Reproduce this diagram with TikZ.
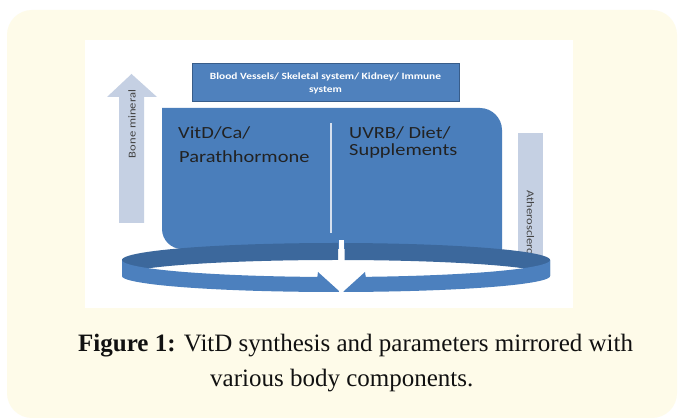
\documentclass[tikz,border=0pt]{standalone}
\usepackage{fontspec}
\setmainfont{Liberation Serif}
\newfontfamily\calib[FakeStretch=1.2]{Carlito}
\definecolor{cardc}{HTML}{FEFBE9}
\definecolor{boxc}{HTML}{4A7EBB}
\definecolor{topc}{HTML}{4F81BD}
\definecolor{topd}{HTML}{385D8A}
\definecolor{arrc}{HTML}{C5D0E3}
\definecolor{backc}{HTML}{3C689C}
\definecolor{frontc}{HTML}{4C80BE}
\definecolor{darktxt}{HTML}{222222}
\definecolor{divc}{HTML}{D6E0EE}
\definecolor{captc}{HTML}{111111}
\tikzset{
  boxtext/.style={font=\calib\fontsize{17}{20}\selectfont, text=darktxt, inner sep=0pt, anchor=base west},
  arrtext/.style={font=\calib\fontsize{10.5}{12}\selectfont, text=darktxt!85, inner sep=0pt},
  topbox/.style={fill=topc, draw=topd, line width=1pt, inner sep=0pt, align=center, text=white,
    font=\calib\bfseries\fontsize{9.5}{13}\selectfont},
  capt/.style={font=\fontsize{25}{30}\selectfont, text=captc, inner sep=0pt, anchor=base west},
}
\begin{document}
\begin{tikzpicture}[x=1pt,y=-1pt]
\useasboundingbox (0,0) rectangle (678,419);
\fill[white] (0,0) rectangle (678,419);
% card and white panel
\fill[cardc, rounded corners=25pt] (7,10) rectangle (677,418);
\fill[white] (85,40) rectangle (573,308);
% left arrow (Bone mineral)
\fill[arrc] (119,223) -- (119,97) -- (107,97) -- (131.5,74) -- (157,97) -- (144,97) -- (144,223) -- cycle;
\node[arrtext, rotate=90] (bone) at (132,124) {Bone mineral};
% right arrow shaft (Atherosclero)
\fill[arrc] (518,133) rectangle (543,268);
\node[arrtext, rotate=-90, anchor=west] (ather) at (530.5,190) {Atherosclero};
% main box
\fill[boxc] (162,108) -- (480,108) .. controls (492,108) and (502,118) .. (502,130)
  -- (502,249) -- (182,249) .. controls (171,249) and (162,240) .. (162,229) -- cycle;
\coordinate (dtop) at (331,123);
\coordinate (dbot) at (331,233);
\draw[divc, line width=1.2pt] (dtop) -- (dbot);
\node[boxtext] (t1) at (178,139) {VitD/Ca/};
\node[boxtext] (t2) at (179,163) {Parathhormone};
\node[boxtext] (t3) at (349,139) {UVRB/ Diet/};
\node[boxtext] (t4) at (349,156) {Supplements};
% top box
\node[topbox, minimum width=267pt, minimum height=38pt] (top) at (325.5,83)
  {Blood Vessels/ Skeletal system/ Kidney/ Immune\\system};
% ring: back (inner) face
\fill[backc] plot[domain=180:270.6,samples=60] ({336+214*cos(\x)},{260+17*sin(\x)})
  -- plot[domain=270.6:180,samples=60] ({336+214*cos(\x)},{276+16*sin(\x)}) -- cycle;
\fill[backc] plot[domain=272.3:360,samples=60] ({336+214*cos(\x)},{260+17*sin(\x)})
  -- plot[domain=360:272.3,samples=60] ({336+214*cos(\x)},{276+16*sin(\x)}) -- cycle;
\fill[white] (338.6,240) rectangle (344.2,262);
% ring: front (outer) face with arrowheads
\fill[frontc] plot[domain=180:95,samples=60] ({336+214*cos(\x)},{260+17*sin(\x)})
  -- (318,272) -- (339,291)
  -- plot[domain=89.2:180,samples=60] ({336+214*cos(\x)},{276+16*sin(\x)}) -- cycle;
\fill[frontc] (344,291) -- (365,272)
  -- plot[domain=82:0,samples=60] ({336+214*cos(\x)},{260+17*sin(\x)})
  -- plot[domain=0:88,samples=60] ({336+214*cos(\x)},{276+16*sin(\x)}) -- cycle;
% caption
\node[capt] (cap1) at (78,352) {\textbf{Figure 1:} VitD synthesis and parameters mirrored with};
\node[capt] (cap2) at (210,387) {various body components.};
\end{tikzpicture}
\end{document}
